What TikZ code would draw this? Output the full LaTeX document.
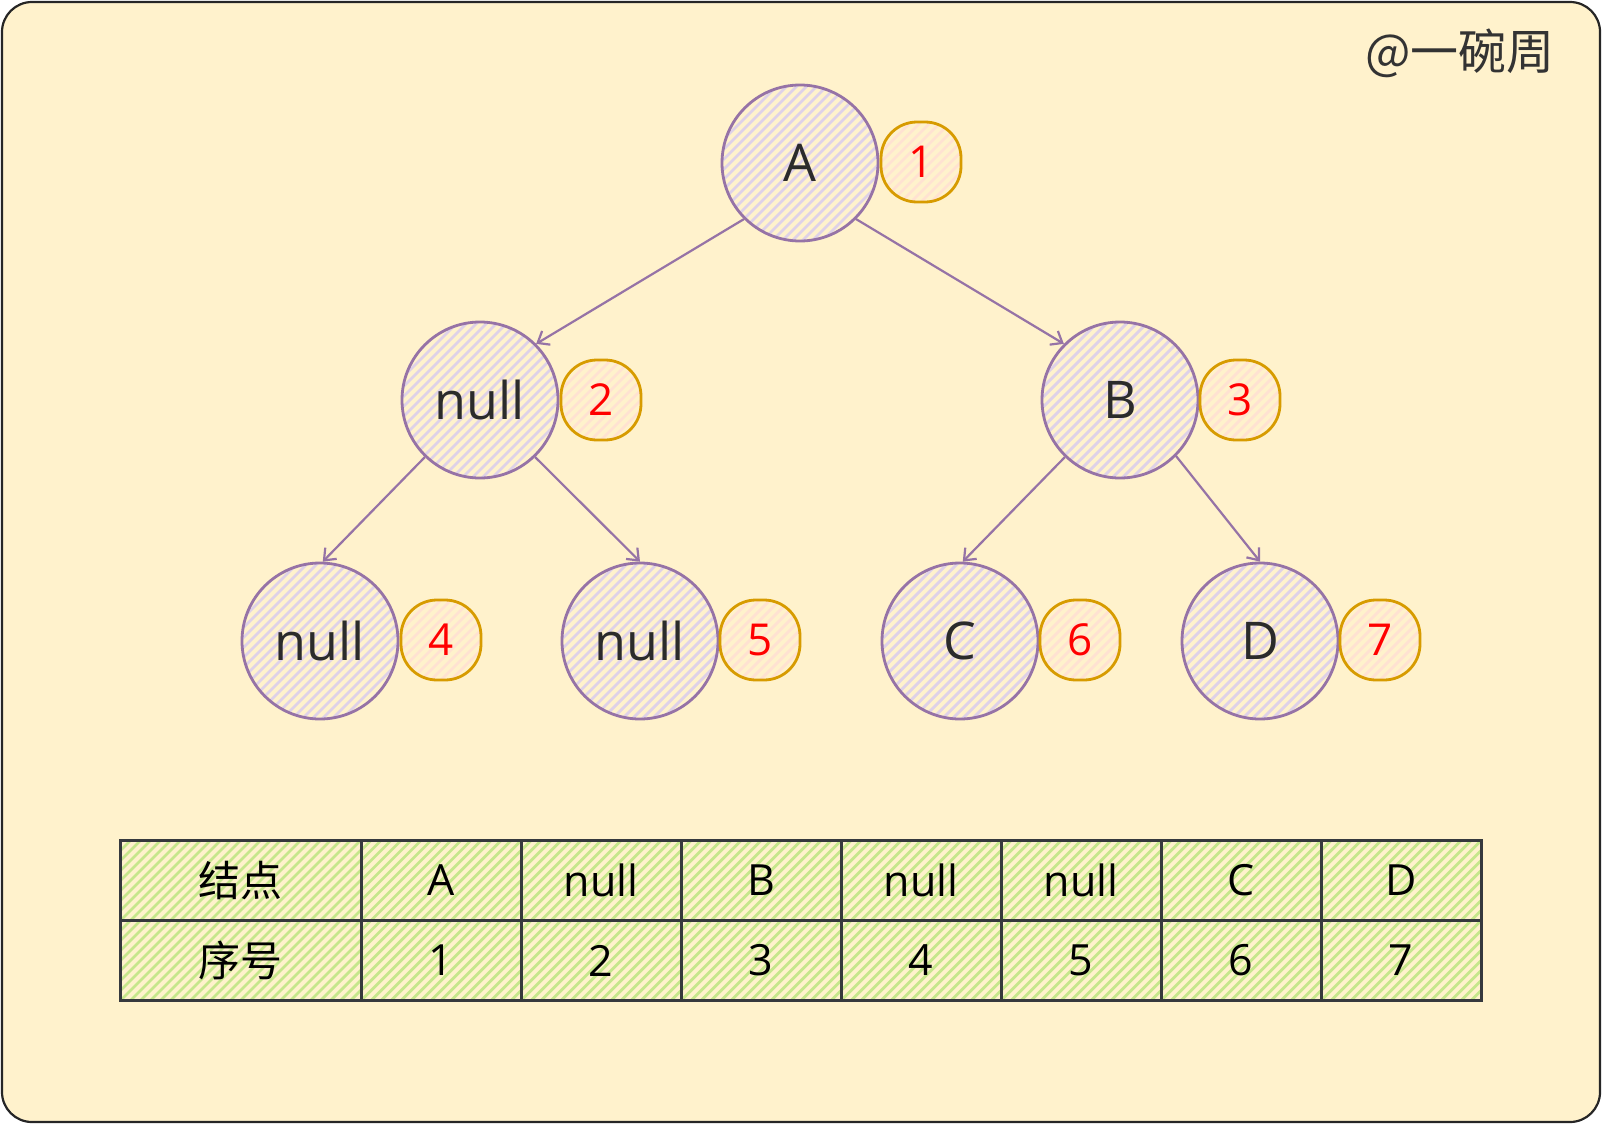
\documentclass[tikz,border=0pt]{standalone}
\usepackage{fontspec}
\setmainfont{Open Sans}
\newfontfamily\cjkfont{Noto Sans CJK SC}
\usetikzlibrary{arrows.meta}
\definecolor{bgc}{HTML}{FFF2CC}
\definecolor{purp}{HTML}{9673A6}
\definecolor{purphatch}{HTML}{DED1E8}
\definecolor{orng}{HTML}{D79B00}
\definecolor{orhatch}{HTML}{FFE2D2}
\definecolor{grnhatch}{HTML}{C6E78C}
\definecolor{tabline}{HTML}{36393D}
\definecolor{txt}{HTML}{2B2B2B}
\definecolor{mark}{HTML}{333333}
\tikzset{
  hatch/.style={path picture={
    \foreach \k in {-22,...,22}{
      \draw[#1, line width=2.8pt]
        ([xshift=\k*10pt-150pt, yshift=-150pt]path picture bounding box.center) -- ++(300pt,300pt);
    }}},
  treenode/.style={circle, minimum size=156pt, inner sep=0pt, draw=purp, line width=2.8pt,
    hatch=purphatch, text=txt, font=\fontsize{52}{60}\selectfont},
  badge/.style={rectangle, rounded corners=36pt, minimum size=80pt, inner sep=0pt, draw=orng,
    line width=2.8pt, hatch=orhatch, text=red, font=\fontsize{44}{52}\selectfont},
  cell/.style={rectangle, minimum width=160pt, minimum height=80pt, inner sep=0pt, draw=tabline,
    line width=3pt, hatch=grnhatch, text=black, font=\fontsize{43}{50}\selectfont},
  headcell/.style={cell, minimum width=241pt, font=\cjkfont\fontsize{42}{50}\selectfont},
  edge/.style={draw=purp, line width=2.2pt, -{Straight Barb[length=10pt,width=16pt,line width=2.2pt]}}
}
\begin{document}
\begin{tikzpicture}[x=1pt,y=-1pt]
\useasboundingbox (0,0) rectangle (1602,1124);
\draw[fill=bgc, draw=black!85, line width=2.2pt, rounded corners=30pt] (2,2) rectangle (1600,1122);

\node[font=\cjkfont\fontsize{48}{56}\selectfont, text=mark] (wm) at (1460,53) {@一碗周};

% tree nodes
\node[treenode] (A) at (800,163) {A};
\node[treenode] (N1) at (480,400) {null};
\node[treenode] (B) at (1120,400) {B};
\node[treenode] (N4) at (320,641) {null};
\node[treenode] (N5) at (640,641) {null};
\node[treenode] (C) at (960,641) {C};
\node[treenode] (D) at (1260,641) {D};

% badges
\node[badge] (b1) at (921,162) {1};
\node[badge] (b2) at (601,400) {2};
\node[badge] (b3) at (1240,400) {3};
\node[badge] (b4) at (441,640) {4};
\node[badge] (b5) at (760,640) {5};
\node[badge] (b6) at (1080,640) {6};
\node[badge] (b7) at (1380,640) {7};

% edges
\draw[edge] (A.225) -- (N1.45);
\draw[edge] (A.315) -- (B.135);
\draw[edge] (N1.226) -- (N4.88);
\draw[edge] (N1.314) -- (N5.90);
\draw[edge] (B.226) -- (C.88);
\draw[edge] (B.315) -- (D.90);

% table
\node[headcell] (h0) at (240.5,880.5) {结点};
\node[headcell] (r0) at (240.5,960.5) {序号};
\node[cell] (h1) at (441,880.5) {A};
\node[cell] (h2) at (601,880.5) {null};
\node[cell] (h3) at (761,880.5) {B};
\node[cell] (h4) at (921,880.5) {null};
\node[cell] (h5) at (1081,880.5) {null};
\node[cell] (h6) at (1241,880.5) {C};
\node[cell] (h7) at (1401,880.5) {D};
\node[cell] (r1) at (441,960.5) {1};
\node[cell] (r2) at (601,960.5) {2};
\node[cell] (r3) at (761,960.5) {3};
\node[cell] (r4) at (921,960.5) {4};
\node[cell] (r5) at (1081,960.5) {5};
\node[cell] (r6) at (1241,960.5) {6};
\node[cell] (r7) at (1401,960.5) {7};
\end{tikzpicture}
\end{document}
